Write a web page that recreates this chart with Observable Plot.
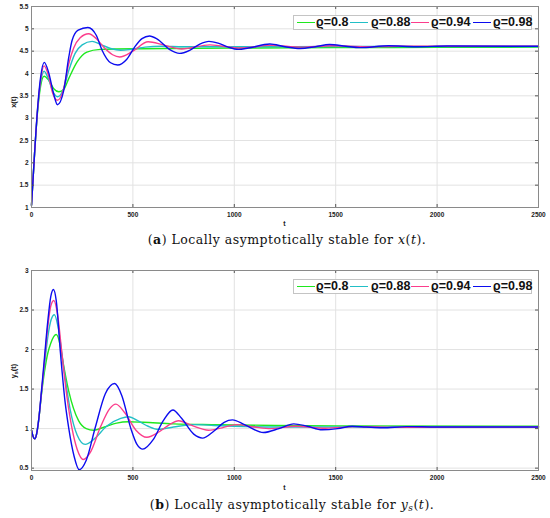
<!DOCTYPE html>
<html><head><meta charset="utf-8">
<script src="https://cdn.jsdelivr.net/npm/d3@7"></script>
<script src="https://cdn.jsdelivr.net/npm/@observablehq/plot@0.6"></script>
<style>
body{margin:0;background:#fff;}
#wrap{position:relative;width:550px;height:518px;overflow:hidden;background:#fff;}
.chart{position:absolute;left:0;}
.legend{position:absolute;left:293px;width:239px;height:15px;border:1px solid #c4c4c4;background:#fff;box-sizing:border-box;font:bold 12.5px "Liberation Sans","DejaVu Sans",sans-serif;color:#111;}
.legend .ln{position:absolute;top:5.5px;height:1.5px;width:18px;}
.legend .tx{position:absolute;top:0px;line-height:13px;white-space:nowrap;}
.cap{position:absolute;text-align:center;font:12.5px "DejaVu Serif",serif;letter-spacing:0.5px;color:#111;white-space:nowrap;line-height:16px;}
</style></head>
<body><div id="wrap"></div>
<script>
// ---- labels, ticks, colours ----
const rhoLabels = ["ϱ=0.8", "ϱ=0.88", "ϱ=0.94", "ϱ=0.98"];
const colors = ["#1ee81e", "#22bfc6", "#fb3d8c", "#0c0cef"];
const xTicks = [0, 500, 1000, 1500, 2000, 2500];
const yTicksTop = [1, 1.5, 2, 2.5, 3, 3.5, 4, 4.5, 5, 5.5];
const yTicksBottom = [0.5, 1, 1.5, 2, 2.5, 3];

// ---- panel (a): x(t) ----  [t, x]
const x080 = [[0,1.05],[15,2.2],[30,3.15],[45,3.72],[62,3.94],[85,3.85],[110,3.66],[135,3.59],[160,3.65],[184,3.89],[225,4.26],[273,4.48],[339,4.54],[420,4.55],[550,4.555],[700,4.56],[1000,4.57],[1500,4.58],[2000,4.585],[2500,4.59]];
const x088 = [[0,1.05],[15,2.2],[30,3.18],[45,3.8],[62,4.05],[85,3.86],[108,3.57],[128,3.48],[155,3.62],[184,4.07],[215,4.45],[250,4.64],[299,4.72],[340,4.65],[390,4.56],[440,4.52],[490,4.54],[560,4.59],[640,4.61],[750,4.6],[900,4.6],[1100,4.6],[1500,4.605],[2500,4.605]];
const x094 = [[0,1.05],[15,2.2],[30,3.2],[45,3.85],[62,4.17],[84,3.95],[105,3.55],[127,3.4],[155,3.6],[184,4.22],[208,4.57],[240,4.8],[282,4.89],[320,4.78],[360,4.57],[400,4.42],[435,4.37],[500,4.5],[575,4.71],[650,4.64],[740,4.55],[880,4.64],[1030,4.57],[1180,4.63],[1330,4.59],[1480,4.62],[1650,4.6],[1800,4.61],[2500,4.61]];
const x098 = [[0,1.05],[15,2.2],[30,3.22],[45,3.92],[63,4.25],[84,4.03],[109,3.55],[128,3.3],[159,3.62],[184,4.37],[200,4.74],[230,4.97],[278,5.03],[320,4.85],[348,4.52],[390,4.24],[425,4.19],[470,4.32],[510,4.6],[545,4.78],[582,4.84],[620,4.77],[680,4.54],[730,4.45],[780,4.52],[830,4.66],[875,4.72],[920,4.68],[970,4.59],[1020,4.54],[1070,4.57],[1175,4.66],[1250,4.6],[1325,4.56],[1400,4.6],[1470,4.65],[1550,4.61],[1620,4.58],[1760,4.62],[1900,4.6],[2050,4.615],[2500,4.61]];

// ---- panel (b): y_s(t) ----  [t, y_s]
const y080 = [[0,0.98],[8,0.9],[16,0.87],[25,0.93],[35,1.1],[50,1.45],[64,1.72],[80,1.95],[95,2.08],[122,2.19],[140,2.07],[150,1.92],[183,1.48],[232,1.1],[270,1.0],[306,0.98],[360,1.02],[420,1.07],[478,1.087],[550,1.08],[700,1.06],[900,1.05],[1200,1.04],[1500,1.035],[2500,1.03]];
const y088 = [[0,0.98],[8,0.9],[16,0.87],[25,0.93],[35,1.1],[50,1.47],[64,1.8],[80,2.15],[97,2.38],[113,2.44],[130,2.3],[160,1.75],[190,1.25],[225,0.92],[265,0.8],[310,0.87],[370,1.03],[440,1.13],[478,1.15],[530,1.09],[575,1.03],[626,0.99],[700,1.02],[800,1.05],[900,1.04],[1000,1.03],[1200,1.02],[2500,1.02]];
const y094 = [[0,0.98],[8,0.9],[16,0.87],[25,0.93],[35,1.1],[50,1.48],[64,1.85],[80,2.28],[95,2.55],[110,2.62],[128,2.45],[150,1.95],[175,1.4],[200,1.0],[225,0.74],[256,0.61],[290,0.7],[340,1.02],[385,1.25],[416,1.31],[460,1.2],[515,0.98],[569,0.89],[630,0.96],[680,1.05],[725,1.1],[790,1.04],[873,0.98],[940,1.01],[1010,1.05],[1100,1.02],[1180,1.0],[1300,1.03],[1450,1.005],[1600,1.025],[1800,1.015],[2500,1.02]];
const y098 = [[0,0.98],[8,0.9],[16,0.87],[25,0.93],[35,1.1],[50,1.5],[64,1.9],[80,2.35],[95,2.67],[108,2.76],[122,2.62],[143,1.95],[165,1.35],[184,1.0],[210,0.65],[235,0.48],[270,0.6],[314,1.01],[364,1.44],[410,1.57],[445,1.42],[490,1.0],[520,0.8],[549,0.74],[600,0.86],[650,1.1],[697,1.235],[740,1.13],[800,0.93],[843,0.88],[900,0.97],[950,1.08],[991,1.11],[1050,1.05],[1144,0.95],[1220,1.0],[1293,1.06],[1360,1.03],[1433,0.985],[1510,1.0],[1581,1.03],[1650,1.02],[1730,1.01],[1850,1.025],[2000,1.02],[2500,1.02]];

const wrap = document.getElementById("wrap");

function makePanel(series, yDomain, yTicks, top, height, mt, mb) {
  const W = 550, ml = 31, mr = 12;
  const iw = W - ml - mr, ih = height - mt - mb;
  const tickStroke = "#555";
  const plot = Plot.plot({
    width: W, height, marginTop: mt, marginBottom: mb, marginLeft: ml, marginRight: mr,
    style: {fontFamily: "'Liberation Sans', Arial, sans-serif", fontSize: "6.5px", fontWeight: "bold", background: "#fff", color: "#222", overflow: "visible"},
    x: {domain: [0, 2500]},
    y: {domain: yDomain},
    marks: [
      Plot.gridX(xTicks, {stroke: "#e2e2e2", strokeOpacity: 1}),
      Plot.gridY(yTicks, {stroke: "#e2e2e2", strokeOpacity: 1}),
      Plot.axisX(xTicks, {tickSize: 0, tickPadding: 5, tickFormat: d => String(d), label: null}),
      Plot.axisY(yTicks, {tickSize: 0, tickPadding: 3, tickFormat: d => String(d), label: null}),
      ...series.map((s, i) => Plot.line(s, {x: d => d[0], y: d => d[1], stroke: colors[i], strokeWidth: 1.4, curve: "monotone-x"})),
      Plot.tickX(xTicks, {x: d => d, insetTop: ih - 3, stroke: tickStroke}),
      Plot.tickX(xTicks, {x: d => d, insetBottom: ih - 3, stroke: tickStroke}),
      Plot.tickY(yTicks, {y: d => d, insetRight: iw - 3, stroke: tickStroke}),
      Plot.tickY(yTicks, {y: d => d, insetLeft: iw - 3, stroke: tickStroke}),
      Plot.frame({stroke: "#8a8a8a"})
    ]
  });
  plot.classList.add("chart");
  plot.style.top = top + "px";
  wrap.appendChild(plot);
  return {svg: d3.select(plot), ih, iw, mt, ml};
}

// Panel (a)
const pa = makePanel([x080, x088, x094, x098], [1, 5.5], yTicksTop, 0, 230, 6, 23);
pa.svg.append("text").attr("x", 284.5).attr("y", 224).attr("dy", "0.35em")
  .attr("text-anchor", "middle").attr("font-size", 7).attr("font-weight", "bold").text("t");
pa.svg.append("text").attr("transform", "translate(13,102) rotate(-90)").attr("dy", "0.35em")
  .attr("text-anchor", "middle").attr("font-size", 7.5).attr("font-weight", "bold").text("x(t)");

// Panel (b)
const pb = makePanel([y080, y088, y094, y098], [0.47, 3], yTicksBottom, 262, 230, 8, 22);
pb.svg.append("text").attr("x", 284.5).attr("y", 226).attr("dy", "0.35em")
  .attr("text-anchor", "middle").attr("font-size", 7).attr("font-weight", "bold").text("t");
const yl = pb.svg.append("text").attr("transform", "translate(13,109) rotate(-90)").attr("dy", "0.35em")
  .attr("text-anchor", "middle").attr("font-size", 7.5).attr("font-weight", "bold");
yl.append("tspan").text("y");
yl.append("tspan").attr("font-size", 5.5).attr("dy", "2").text("s");
yl.append("tspan").attr("dy", "-2").text("(t)");

// Legends
function legend(top) {
  const lg = document.createElement("div");
  lg.className = "legend";
  lg.style.top = top + "px";
  const lineX = [2.5, 56, 117, 179];
  const textX = [22, 77, 137, 199];
  rhoLabels.forEach((lab, i) => {
    const ln = document.createElement("div");
    ln.className = "ln"; ln.style.left = lineX[i] + "px"; ln.style.background = colors[i];
    lg.appendChild(ln);
    const tx = document.createElement("div");
    tx.className = "tx"; tx.style.left = textX[i] + "px"; tx.textContent = lab;
    lg.appendChild(tx);
  });
  wrap.appendChild(lg);
}
legend(15);
legend(279);

// Captions
function caption(html, top, centerX) {
  const c = document.createElement("div");
  c.className = "cap";
  c.style.top = top + "px";
  c.style.left = (centerX - 300) + "px";
  c.style.width = "600px";
  c.innerHTML = html;
  wrap.appendChild(c);
}
caption('(<b>a</b>) Locally asymptotically stable for <i>x</i>(<i>t</i>).', 232, 287);
caption('(<b>b</b>) Locally asymptotically stable for <i>y</i><sub style="font-size:9px;vertical-align:-2px;font-style:italic">s</sub>(<i>t</i>).', 497, 292);
</script>
</body></html>
